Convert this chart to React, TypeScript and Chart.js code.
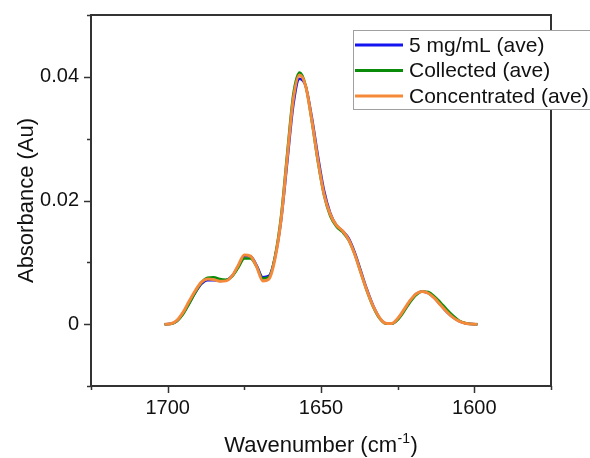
import React, { useEffect, useRef } from 'react';
import { Chart, registerables } from 'chart.js';

Chart.register(...registerables);

// Wavenumber axis (cm^-1)
const wavenumbers = [
  1701, 1699, 1697, 1695, 1693, 1691, 1689, 1687, 1685, 1683, 1681, 1679, 1677,
  1675, 1673, 1671, 1669, 1667, 1665, 1663, 1661, 1659, 1657, 1655, 1653, 1651,
  1649, 1647, 1645, 1643, 1641, 1639, 1637, 1635, 1633, 1631, 1629, 1627, 1625,
  1623, 1621, 1619, 1617, 1615, 1613, 1611, 1609, 1607, 1605, 1603, 1601, 1599,
];

// 5 mg/mL (ave)
const series5mg = [
  0, 0.00005, 0.0005, 0.0017, 0.0034, 0.0051, 0.0065, 0.0071, 0.0071, 0.007, 0.0071, 0.0078, 0.0094,
  0.011, 0.011, 0.0095, 0.0076, 0.0078, 0.0108, 0.0168, 0.0262, 0.0355, 0.0397, 0.0385, 0.0335, 0.0272,
  0.0216, 0.018, 0.016, 0.0151, 0.0139, 0.0116, 0.0086, 0.0056, 0.003, 0.0011, 0.00015, 0.00005, 0.0008,
  0.0022, 0.0037, 0.0049, 0.0053, 0.005, 0.0042, 0.0031, 0.002, 0.0011, 0.0005, 0.00015, 0.00002, 0,
];

// Collected (ave)
const seriesCollected = [
  0, 0.00003, 0.00045, 0.0016, 0.0033, 0.0051, 0.0067, 0.0075, 0.0076, 0.0073, 0.0072, 0.0077, 0.0091,
  0.0106, 0.0106, 0.0093, 0.0074, 0.0076, 0.011, 0.0176, 0.0278, 0.0373, 0.0407, 0.0386, 0.0328, 0.0262,
  0.0208, 0.0175, 0.0158, 0.0149, 0.0136, 0.0113, 0.0083, 0.0053, 0.0028, 0.001, 0.0001, 0.00005, 0.0007,
  0.002, 0.0035, 0.0047, 0.0053, 0.0052, 0.0045, 0.0035, 0.0024, 0.0014, 0.0006, 0.0002, 0.00003, 0,
];

// Concentrated (ave)
const seriesConcentrated = [
  0, 0.00005, 0.0006, 0.0019, 0.0037, 0.0054, 0.0068, 0.0073, 0.0072, 0.00695, 0.007, 0.0078, 0.0095,
  0.0112, 0.011, 0.0093, 0.007, 0.0073, 0.0106, 0.017, 0.027, 0.0365, 0.0403, 0.0385, 0.033, 0.0265,
  0.021, 0.0178, 0.016, 0.0151, 0.0137, 0.0113, 0.0083, 0.0054, 0.0029, 0.0011, 0.00015, 0.0001, 0.0009,
  0.0023, 0.0038, 0.0049, 0.0053, 0.005, 0.0042, 0.0031, 0.002, 0.0011, 0.0005, 0.00015, 0.00002, 0,
];

const seriesLabels = ['5 mg/mL (ave)', 'Collected (ave)', 'Concentrated (ave)'];
const seriesColors = ['#1414F0', '#0A8C0A', '#F5893A'];

const xMajorTicks = [1700, 1650, 1600];
const yMajorTicks = [0, 0.02, 0.04];
const yTickLabels = ['0', '0.02', '0.04'];

const xTitleMain = 'Wavenumber (cm';
const xTitleSup = '-1';
const xTitleEnd = ')';
const yTitle = 'Absorbance (Au)';

const FONT = 'Arial, "Liberation Sans", sans-serif';

const decorPlugin = {
  id: 'decor',
  afterDraw(chart: any) {
    const ctx = chart.ctx as CanvasRenderingContext2D;
    const area = chart.chartArea;
    const xs = chart.scales.x;
    const ys = chart.scales.y;
    ctx.save();
    // frame
    ctx.strokeStyle = '#333333';
    ctx.lineWidth = 2;
    ctx.strokeRect(area.left, area.top, area.right - area.left, area.bottom - area.top);

    // ticks
    ctx.lineWidth = 1.5;
    for (let v = xs.min; v <= xs.max + 0.001; v += 25) {
      const major = xMajorTicks.some((t) => Math.abs(t - v) < 0.01);
      const px = Math.round(xs.getPixelForValue(v)) + 0.5;
      ctx.beginPath();
      ctx.moveTo(px, area.bottom);
      ctx.lineTo(px, area.bottom + (major ? 7 : 4));
      ctx.stroke();
    }
    for (let i = 0; i <= 6; i++) {
      const v = ys.min + i * 0.01;
      const major = yMajorTicks.some((t) => Math.abs(t - v) < 1e-6);
      const py = Math.round(ys.getPixelForValue(v)) + 0.5;
      ctx.beginPath();
      ctx.moveTo(area.left, py);
      ctx.lineTo(area.left - (major ? 7 : 4), py);
      ctx.stroke();
    }

    // axis titles
    ctx.fillStyle = '#111111';
    const mainFont = `22px ${FONT}`;
    const supFont = `14px ${FONT}`;
    ctx.font = mainFont;
    const wMain = ctx.measureText(xTitleMain).width;
    const wEnd = ctx.measureText(xTitleEnd).width;
    ctx.font = supFont;
    const wSup = ctx.measureText(xTitleSup).width;
    const total = wMain + wSup + wEnd + 1;
    const cx = (area.left + area.right) / 2;
    let x0 = cx - total / 2;
    const base = 452;
    ctx.textBaseline = 'alphabetic';
    ctx.textAlign = 'left';
    ctx.font = mainFont;
    ctx.fillText(xTitleMain, x0, base);
    ctx.font = supFont;
    ctx.fillText(xTitleSup, x0 + wMain + 0.5, base - 9);
    ctx.font = mainFont;
    ctx.fillText(xTitleEnd, x0 + wMain + wSup + 1, base);

    ctx.save();
    ctx.translate(33, (area.top + area.bottom) / 2);
    ctx.rotate(-Math.PI / 2);
    ctx.textAlign = 'center';
    ctx.font = mainFont;
    ctx.fillText(yTitle, 0, 0);
    ctx.restore();

    // legend
    const lx = 353;
    const ly = 30;
    const lw = 245;
    const lh = 79;
    ctx.fillStyle = '#ffffff';
    ctx.fillRect(lx, ly, lw, lh);
    ctx.strokeStyle = '#a0a0a0';
    ctx.lineWidth = 1;
    ctx.strokeRect(lx + 0.5, ly + 0.5, lw, lh);
    ctx.font = `21px ${FONT}`;
    ctx.textBaseline = 'middle';
    ctx.textAlign = 'left';
    chart.data.datasets.forEach((ds: any, i: number) => {
      const y = 45 + i * 25.5;
      ctx.strokeStyle = ds.borderColor;
      ctx.lineWidth = 3;
      ctx.beginPath();
      ctx.moveTo(lx + 2, y);
      ctx.lineTo(lx + 50, y);
      ctx.stroke();
      ctx.fillStyle = '#111111';
      ctx.fillText(ds.label, lx + 56, y + 1);
    });
    ctx.restore();
  },
};

export default function App() {
  const canvasRef = useRef<HTMLCanvasElement | null>(null);

  useEffect(() => {
    const canvas = canvasRef.current;
    if (!canvas) return;
    const allSeries = [series5mg, seriesCollected, seriesConcentrated];
    const widths = [2.5, 2.5, 3];
    const chart = new Chart(canvas, {
      type: 'line',
      data: {
        datasets: allSeries.map((s, i) => ({
          label: seriesLabels[i],
          data: wavenumbers.map((w, j) => ({ x: w, y: s[j] })),
          borderColor: seriesColors[i],
          backgroundColor: seriesColors[i],
          borderWidth: widths[i],
          pointRadius: 0,
          cubicInterpolationMode: 'monotone' as const,
          fill: false,
          order: 3 - i,
        })),
      },
      options: {
        responsive: false,
        animation: false,
        layout: { padding: { top: 15, right: 39, left: 0, bottom: 0 } },
        plugins: { legend: { display: false }, tooltip: { enabled: false } },
        scales: {
          x: {
            type: 'linear',
            min: 1575,
            max: 1725,
            reverse: true,
            grid: { display: false, drawTicks: false },
            border: { display: false },
            afterFit: (scale: any) => {
              scale.height = 72;
              scale.paddingLeft = 0;
              scale.paddingRight = 0;
            },
            ticks: {
              stepSize: 25,
              padding: 10,
              autoSkip: false,
              maxRotation: 0,
              color: '#111111',
              font: { family: FONT, size: 20 },
              callback: (v: any) => {
                const n = Number(v);
                return xMajorTicks.some((t) => Math.abs(t - n) < 0.01) ? String(Math.round(n)) : '';
              },
            },
          },
          y: {
            type: 'linear',
            min: -0.01,
            max: 0.05,
            grid: { display: false, drawTicks: false },
            border: { display: false },
            afterFit: (scale: any) => {
              scale.width = 91;
              scale.paddingTop = 0;
              scale.paddingBottom = 0;
            },
            ticks: {
              stepSize: 0.01,
              padding: 12,
              autoSkip: false,
              color: '#111111',
              font: { family: FONT, size: 20 },
              callback: (v: any) => {
                const n = Number(v);
                const idx = yMajorTicks.findIndex((t) => Math.abs(t - n) < 1e-6);
                return idx >= 0 ? yTickLabels[idx] : '';
              },
            },
          },
        },
      },
      plugins: [decorPlugin],
    });
    return () => chart.destroy();
  }, []);

  return (
    <div style={{ position: 'absolute', left: 0, top: 0, width: 590, height: 458, background: '#fff' }}>
      <canvas ref={canvasRef} width={590} height={458} style={{ display: 'block' }} />
    </div>
  );
}
